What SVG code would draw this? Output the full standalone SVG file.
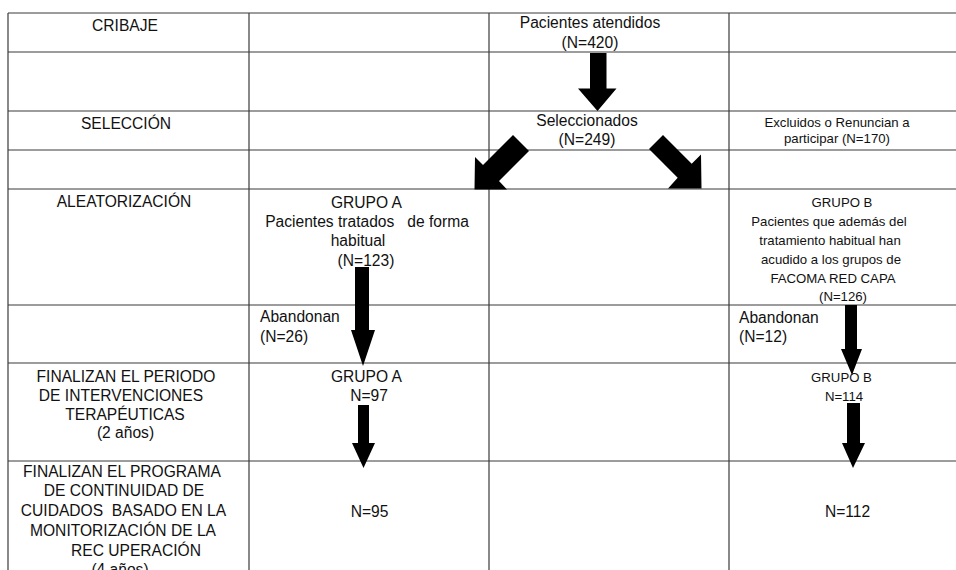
<svg xmlns="http://www.w3.org/2000/svg" width="956" height="570" viewBox="0 0 956 570">
<style>
.grid line{stroke:#3a3a3a;stroke-width:1.2}
text{font-family:"Liberation Sans",Arial,Helvetica,sans-serif;fill:#111;text-anchor:middle}
.l{font-size:15.6px}
.s{font-size:13.2px}
.st{text-anchor:start}
.arrow{fill:#000}
</style>
<rect x="0" y="0" width="956" height="570" fill="#fff"/>
<g class="grid">
<line x1="8" y1="13" x2="956" y2="13"/>
<line x1="8" y1="52" x2="956" y2="52"/>
<line x1="8" y1="111" x2="956" y2="111"/>
<line x1="8" y1="150" x2="956" y2="150"/>
<line x1="8" y1="189" x2="956" y2="189"/>
<line x1="8" y1="305" x2="956" y2="305"/>
<line x1="8" y1="363" x2="956" y2="363"/>
<line x1="8" y1="461" x2="956" y2="461"/>
<line x1="8" y1="13" x2="8" y2="570"/>
<line x1="249" y1="13" x2="249" y2="570"/>
<line x1="489" y1="13" x2="489" y2="570"/>
<line x1="729" y1="13" x2="729" y2="570"/>
</g>
<g id="lbl-cribaje"><text class="l" x="125" y="31">CRIBAJE</text></g>
<g id="lbl-seleccion"><text class="l" x="126" y="129">SELECCIÓN</text></g>
<g id="lbl-aleatorizacion"><text class="l" x="124" y="207">ALEATORIZACIÓN</text></g>
<g id="lbl-finalizan-periodo">
<text class="l" x="126" y="382">FINALIZAN EL PERIODO</text>
<text class="l" x="121" y="401">DE INTERVENCIONES</text>
<text class="l" x="125" y="420">TERAPÉUTICAS</text>
<text class="l" x="125.5" y="438">(2 años)</text>
</g>
<g id="lbl-finalizan-programa">
<text class="l" x="122" y="477">FINALIZAN EL PROGRAMA</text>
<text class="l" x="124" y="496">DE CONTINUIDAD DE</text>
<text class="l" x="123.5" y="516">CUIDADOS&#160; BASADO EN LA</text>
<text class="l" x="123" y="536">MONITORIZACIÓN DE LA</text>
<text class="l" x="136" y="556">REC UPERACIÓN</text>
<text class="l" x="120" y="575">(4 años)</text>
</g>
<g id="atendidos">
<text class="l" x="590" y="28">Pacientes atendidos</text>
<text class="l" x="590" y="48">(N=420)</text>
</g>
<g id="seleccionados">
<text class="l" x="587" y="126">Seleccionados</text>
<text class="l" x="587" y="145">(N=249)</text>
</g>
<g id="excluidos">
<text class="s" x="837" y="127">Excluidos o Renuncian a</text>
<text class="s" x="837" y="143">participar (N=170)</text>
</g>
<g id="grupo-a">
<text class="l" x="366.5" y="208">GRUPO A</text>
<text class="l" x="367" y="227">Pacientes tratados&#160;&#160; de forma</text>
<text class="l" x="358" y="246">habitual</text>
<text class="l" x="366" y="266">(N=123)</text>
</g>
<g id="grupo-b">
<text class="s" x="842" y="207">GRUPO B</text>
<text class="s" x="829" y="226">Pacientes que además del</text>
<text class="s" x="830" y="245">tratamiento habitual han</text>
<text class="s" x="831" y="264">acudido a los grupos de</text>
<text class="s" x="833" y="283">FACOMA RED CAPA</text>
<text class="s" x="843" y="301">(N=126)</text>
</g>
<g id="abandonan-a">
<text class="l st" x="260" y="322">Abandonan</text>
<text class="l st" x="260" y="342">(N=26)</text>
</g>
<g id="abandonan-b">
<text class="l st" x="739" y="323">Abandonan</text>
<text class="l st" x="739" y="342">(N=12)</text>
</g>
<g id="fin-a">
<text class="l" x="366.5" y="382">GRUPO A</text>
<text class="l" x="369" y="401">N=97</text>
</g>
<g id="fin-b">
<text class="s" x="841.5" y="382">GRUPO B</text>
<text class="s" x="844" y="401">N=114</text>
</g>
<g id="prog-a"><text class="l" x="369.5" y="517">N=95</text></g>
<g id="prog-b"><text class="l" x="847.5" y="517">N=112</text></g>
<g id="connectors">
<polygon class="arrow" points="590,53 606.5,53 606.5,88.5 616.5,88.5 597.5,111 578,88.5 590,88.5"/>
<polygon class="arrow" points="513,135 529,151 499,181 507,189.5 474.5,189.5 475,157 483,165"/>
<polygon class="arrow" points="663,135 691.7,163.7 701,154.5 701.5,188.5 668,188.5 677.7,177.7 649,149"/>
<polygon class="arrow" points="355,267 369,267 369,330 375,330 363,366 351,330 355,330"/>
<polygon class="arrow" points="358,405 369,405 369,443 375,443 363.5,468 352,443 358,443"/>
<polygon class="arrow" points="845,305 857,305 857,349 862,349 852,375 841,349 845,349"/>
<polygon class="arrow" points="847,403 860,403 860,443 865,443 853,468 842,443 847,443"/>
</g>
</svg>
